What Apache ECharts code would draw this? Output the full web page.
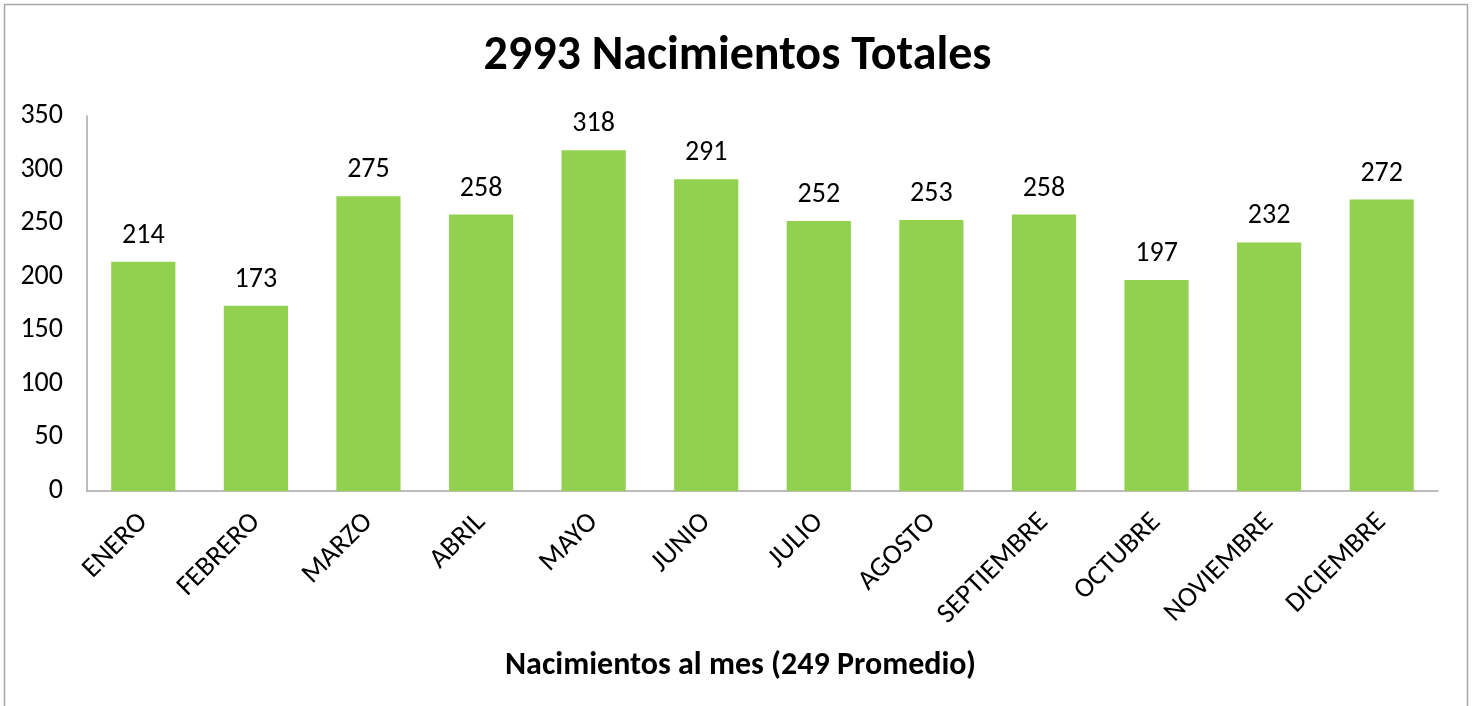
<!DOCTYPE html>
<html><head><meta charset="utf-8">
<script src="https://cdn.jsdelivr.net/npm/echarts@6/dist/echarts.min.js"></script>
<style>html,body{margin:0;padding:0;background:#fff}#c{width:1475px;height:706px}</style>
</head><body><div id="c"></div>
<script>
const categories = ['ENERO','FEBRERO','MARZO','ABRIL','MAYO','JUNIO','JULIO','AGOSTO','SEPTIEMBRE','OCTUBRE','NOVIEMBRE','DICIEMBRE'];
const births = [214,173,275,258,318,291,252,253,258,197,232,272];
const titleText = '2993 Nacimientos Totales';
const xAxisTitle = 'Nacimientos al mes (249 Promedio)';
const FONT = 'Carlito, Lato, "Open Sans", sans-serif';

const chart = echarts.init(document.getElementById('c'), null, {renderer:'canvas'});
chart.setOption({
  animation:false,
  backgroundColor:'#fff',
  textStyle:{fontFamily:FONT},
  title:{text:titleText,left:'center',top:28,textStyle:{fontFamily:FONT,fontSize:48,fontWeight:'bold',color:'#000'}},
  graphic:[{type:'rect',shape:{x:4.5,y:4.5,width:1463,height:720},style:{fill:'none',stroke:'#a6a6a6',lineWidth:1.5},silent:true}],
  grid:{left:87,right:37,top:116,bottom:215},
  xAxis:{type:'category',data:categories,
    name:xAxisTitle,nameLocation:'middle',nameGap:159,
    nameTextStyle:{fontFamily:FONT,fontSize:32,fontWeight:'bold',color:'#000',padding:[0,44,0,0]},
    axisLine:{lineStyle:{color:'#a6a6a6',width:1.5}},axisTick:{show:false},
    axisLabel:{rotate:45,fontSize:28,color:'#000',fontFamily:FONT,margin:27,interval:0}},
  yAxis:{type:'value',min:0,max:350,interval:50,
    axisLine:{show:true,lineStyle:{color:'#a6a6a6',width:1.5}},axisTick:{show:false},
    splitLine:{show:false},
    axisLabel:{fontSize:28,color:'#000',fontFamily:FONT,margin:24}},
  series:[{type:'bar',data:births,barCategoryGap:'43%',
    itemStyle:{color:'#92d050'},
    label:{show:true,position:'top',distance:12,fontSize:28,color:'#000',fontFamily:FONT}}]
});
</script></body></html>
